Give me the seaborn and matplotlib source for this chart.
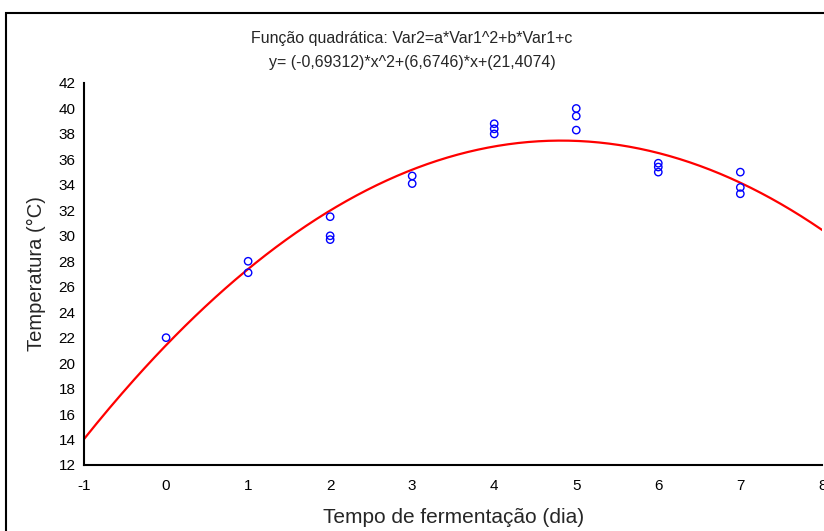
import numpy as np
import pandas as pd
import matplotlib
matplotlib.use("Agg")
import matplotlib.pyplot as plt
import matplotlib.patches as mpatches
import seaborn as sns

DAYS = [0, 1, 1, 2, 2, 2, 3, 3, 4, 4, 4, 5, 5, 5, 6, 6, 6, 7, 7, 7]
TEMPS = [22.0, 28.0, 27.1, 31.5, 30.0, 29.7, 34.7, 34.1, 38.8, 38.4, 38.0,
         40.0, 39.4, 38.3, 35.7, 35.4, 35.0, 35.0, 33.8, 33.3]

# fitted quadratic shown in the title: a, b, c
COEFS = [-0.69312, 6.6746, 21.4074]

XTICKS = list(range(-1, 9))
YTICKS = list(range(12, 43, 2))

sns.set_style("white")
plt.rcParams["font.family"] = ["Liberation Sans", "DejaVu Sans"]
plt.rcParams["axes.unicode_minus"] = False

df = pd.DataFrame({"dia": DAYS, "temp": TEMPS})
xs = np.linspace(-1, 8.2, 300)
fit = pd.DataFrame({"dia": xs, "temp": np.polyval(COEFS, xs)})

fig = plt.figure(figsize=(8.24, 5.31), dpi=100)
ax = fig.add_axes([0.102, 0.1243, 0.896, 0.7194])

sns.lineplot(data=fit, x="dia", y="temp", ax=ax, color="red", lw=1.6, zorder=2)
sns.scatterplot(data=df, x="dia", y="temp", ax=ax, marker="o", s=28,
                facecolors="none", edgecolor="blue", linewidth=1.0, zorder=3)

ax.set_xlim(-1, 8)
ax.set_ylim(12, 42)
ax.set_xticks(XTICKS)
ax.set_yticks(YTICKS)
ax.tick_params(direction="in", length=4, width=1.2, labelsize=11, colors="black")
ax.tick_params(axis="x", pad=10)
ax.tick_params(axis="y", pad=6)
for s in ["top", "right"]:
    ax.spines[s].set_visible(False)
for s in ["left", "bottom"]:
    ax.spines[s].set_linewidth(1.5)
    ax.spines[s].set_color("black")
ax.set_xlabel("Tempo de fermentação (dia)", fontsize=15, labelpad=11)
ax.set_ylabel("Temperatura (°C)", fontsize=14.5, labelpad=9)

fig.text(0.5, 0.928, "Função quadrática: Var2=a*Var1^2+b*Var1+c",
         ha="center", va="center", fontsize=11.5)
fig.text(0.5, 0.883, "y= (-0,69312)*x^2+(6,6746)*x+(21,4074)",
         ha="center", va="center", fontsize=11.5)

fig.patches.append(mpatches.Rectangle((0.007, -0.01), 1.1, 0.985,
                                      transform=fig.transFigure, fill=False,
                                      edgecolor="black", lw=1.5))

fig.savefig("out.png", dpi=100)
